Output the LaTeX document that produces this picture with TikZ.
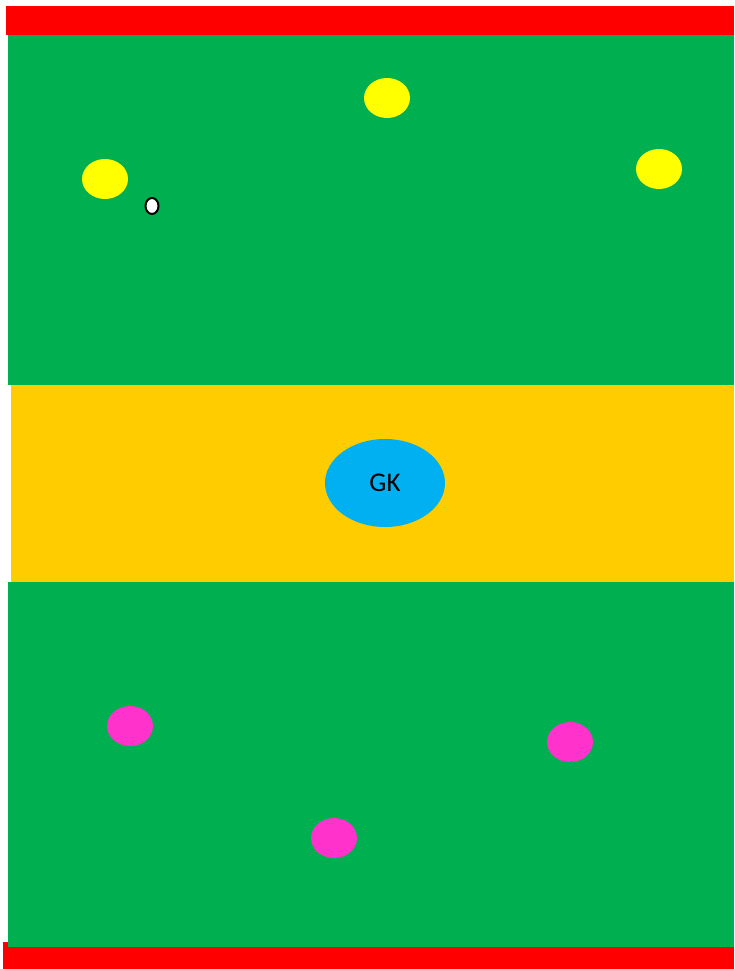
\documentclass[tikz,border=0pt]{standalone}
\usepackage{fontspec}
\setmainfont{Carlito}
\usetikzlibrary{positioning,shapes.geometric}
\definecolor{Pitch}{HTML}{00AF50}
\definecolor{Goal}{HTML}{FF0000}
\definecolor{Zone}{HTML}{FFCC00}
\definecolor{Attack}{HTML}{FFFF00}
\definecolor{Defend}{HTML}{FF33CC}
\definecolor{Keeper}{HTML}{00B0F0}
\tikzset{player/.style={ellipse,minimum width=46pt,minimum height=40pt,inner sep=0pt},attacker/.style={player,fill=Attack},defender/.style={player,fill=Defend}}
\begin{document}
\begin{tikzpicture}[x=1pt,y=-1pt]
\useasboundingbox (0,0) rectangle (734,969);
\fill[Goal] (6,6) rectangle (734,35);
\fill[Goal] (3,942) rectangle (734,969);
\fill[Pitch] (8,35) rectangle (734,385);
\fill[Zone] (11,385) rectangle (734,582);
\fill[Pitch] (8,582) rectangle (734,947);
\node[attacker] (att1) at (387,98) {};
\node[attacker] (att2) at (105,179) {};
\node[attacker] (att3) at (659,169) {};
\node[ellipse,draw=black,fill=white,line width=2pt,minimum width=13pt,minimum height=16pt,inner sep=0pt] (ball) at (152,206) {};
\node[ellipse,fill=Keeper,minimum width=120pt,minimum height=88pt,font=\fontsize{27}{32}\selectfont] (gk) at (385,483) {GK};
\node[defender] (def1) at (130,726) {};
\node[defender] (def2) at (570,742) {};
\node[defender] (def3) at (334,838) {};
\end{tikzpicture}
\end{document}
